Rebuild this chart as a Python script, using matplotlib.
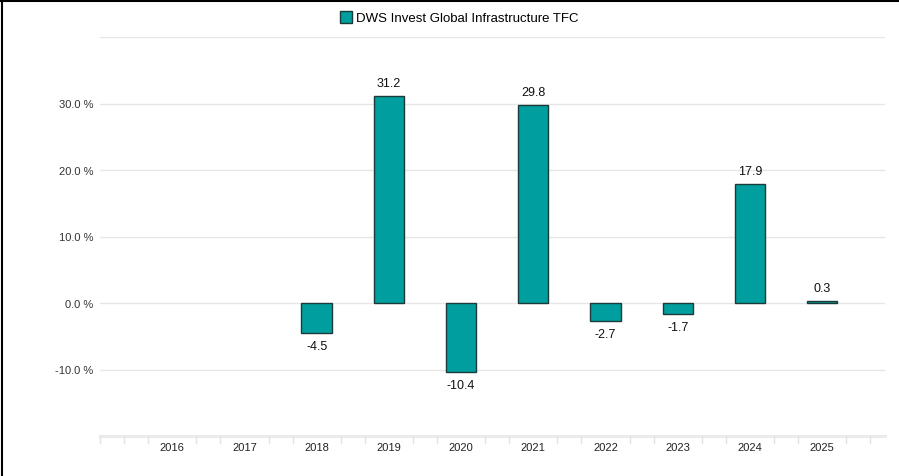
import numpy as np
import matplotlib.pyplot as plt
from matplotlib.lines import Line2D

plt.rcParams['font.family'] = ['Liberation Sans', 'DejaVu Sans']

years = ["2016", "2017", "2018", "2019", "2020", "2021", "2022", "2023", "2024", "2025"]
returns = [None, None, -4.5, 31.2, -10.4, 29.8, -2.7, -1.7, 17.9, 0.3]
series_name = "DWS Invest Global Infrastructure TFC"
y_ticks = [-10, 0, 10, 20, 30]

teal = "#009e9e"
edge = "#1b3b3b"
grid = "#e6e6e6"

fig = plt.figure(figsize=(8.99, 4.77), dpi=100)
ax = fig.add_axes([100 / 899, 40 / 477, 785 / 899, 399 / 477])

x = np.arange(len(years))
vals = np.array([np.nan if v is None else v for v in returns])
mask = ~np.isnan(vals)

ax.set_xlim(-1.0, 9.87)
ax.set_ylim(-20, 40)

for g in [-10, 0, 10, 20, 30, 40]:
    ax.axhline(g, color=grid, lw=1.0, zorder=0)

ax.bar(x[mask], vals[mask], width=0.42, color=teal, edgecolor=edge, linewidth=1.0, zorder=3)

for xi, v in zip(x[mask], vals[mask]):
    off, va = (5, "bottom") if v >= 0 else (-5, "top")
    ax.annotate(f"{v:.1f}", (xi, v), xytext=(0, off), textcoords="offset points",
                ha="center", va=va, fontsize=9, color="#111111")

# axis band at the bottom with small ticks
ax.axhline(-20, color="#ebebeb", lw=2.2, zorder=1, clip_on=False)
minor = sorted(set([c + d for c in range(-1, 11) for d in (-1 / 3, 1 / 3)]))
minor = [m for m in minor if -1.0 <= m <= 9.87] + [-1.0]
for m in minor:
    ax.plot([m, m], [-20, -21.1], color="#e2e2e2", lw=1, clip_on=False, zorder=1)

ax.set_xticks(x)
ax.set_xticklabels(years, fontsize=8, color="#222222")
ax.tick_params(axis="x", length=0, pad=4)
ax.set_yticks(y_ticks)
ax.set_yticklabels([f"{t:.1f} %" for t in y_ticks], fontsize=8, color="#333333")
ax.tick_params(axis="y", length=0, pad=5)

for s in ax.spines.values():
    s.set_visible(False)

handle = Line2D([], [], marker="s", linestyle="none", markersize=9,
                markerfacecolor=teal, markeredgecolor=edge, markeredgewidth=1)
fig.legend([handle], [series_name], loc="center", bbox_to_anchor=(459 / 899, 1 - 19 / 477),
           frameon=False, fontsize=9.5, handletextpad=0.2, handlelength=1.0)

# screenshot frame lines
fig.add_artist(Line2D([0, 1], [1 - 2 / 477, 1 - 2 / 477], color="black", lw=1.5, transform=fig.transFigure))
fig.add_artist(Line2D([2 / 899, 2 / 899], [0, 1], color="black", lw=1.5, transform=fig.transFigure))

fig.savefig("out.png", dpi=100)
